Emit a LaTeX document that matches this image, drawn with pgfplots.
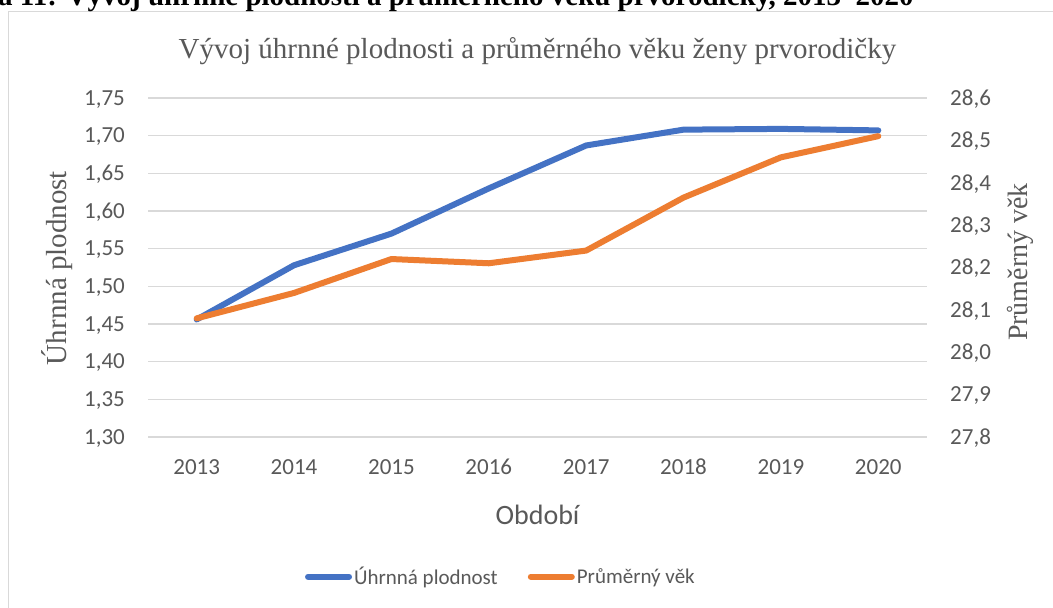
\documentclass[border=0pt]{standalone}
\usepackage{fontspec}
\setmainfont{Liberation Serif}
\newfontfamily\calibri{Carlito}
\usepackage{pgfplots}
\pgfplotsset{compat=1.18}
\definecolor{cblue}{HTML}{4472C4}
\definecolor{corange}{HTML}{ED7D31}
\definecolor{cgrid}{HTML}{D9D9D9}
\definecolor{ctext}{HTML}{595959}
\begin{document}
\begin{tikzpicture}[x=1pt,y=1pt]
\useasboundingbox (0,0) rectangle (1053,-608);
\clip (0,0) rectangle (1053,-608);
\fill[white] (0,0) rectangle (1053,-608);
\draw[cgrid, line width=1.5pt] (8.3,-620) -- (8.3,-11.5) -- (1060,-11.5);
\node[anchor=base west, inner sep=0, font=\fontsize{29}{34}\selectfont\bfseries] at (-2,-5) {\llap{Příloh}a 11: Vývoj úhrnné plodnosti a průměrného věku prvorodičky, 2013–2020};
\node[anchor=base, inner sep=0, text=ctext, font=\fontsize{29}{34}\selectfont] at (537.5,-58) {Vývoj úhrnné plodnosti a průměrného věku ženy prvorodičky};

\begin{axis}[
  at={(148pt,-437pt)}, anchor=south west, scale only axis,
  width=779pt, height=339pt,
  xmin=-0.5, xmax=7.5, ymin=1.30, ymax=1.75,
  xtick={0,1,2,3,4,5,6,7},
  xticklabels={2013,2014,2015,2016,2017,2018,2019,2020},
  ytick={1.30,1.35,1.40,1.45,1.50,1.55,1.60,1.65,1.70,1.75},
  axis line style={draw=none}, tick style={draw=none}, major tick length=0pt,
  ymajorgrids, grid style={cgrid, line width=1.5pt},
  tick label style={font=\calibri\fontsize{23}{27}\selectfont, text=ctext},
  yticklabel style={anchor=base east, inner sep=0pt, xshift=-23pt, yshift=-7.3pt},
  xticklabel style={anchor=base, inner sep=0pt, yshift=-37pt},
  /pgf/number format/.cd, use comma, fixed, fixed zerofill, precision=2, assume math mode=true,
]
\addplot[cblue, line width=6pt, line cap=round, line join=round] coordinates {
 (0,1.456) (1,1.528) (2,1.570) (3,1.630) (4,1.687) (5,1.708) (6,1.709) (7,1.707)};
\end{axis}

\begin{axis}[
  at={(148pt,-437pt)}, anchor=south west, scale only axis,
  width=779pt, height=339pt,
  xmin=-0.5, xmax=7.5, ymin=27.8, ymax=28.6,
  xtick=\empty,
  ytick={27.8,27.9,28.0,28.1,28.2,28.3,28.4,28.5,28.6},
  yticklabel pos=right,
  axis line style={draw=none}, tick style={draw=none}, major tick length=0pt,
  tick label style={font=\calibri\fontsize{23}{27}\selectfont, text=ctext},
  yticklabel style={anchor=base west, inner sep=0pt, xshift=23pt, yshift=-7.3pt},
  /pgf/number format/.cd, use comma, fixed, fixed zerofill, precision=1, assume math mode=true,
  /pgfplots/.cd,
  legend style={at={(0.453,-0.412)}, anchor=center, draw=none, fill=none,
    font=\calibri\fontsize{21}{25}\selectfont, text=ctext, inner sep=0pt},
  legend columns=2,
  legend image code/.code={\draw[#1, line width=6pt, line cap=round] (3pt,0pt) -- (44pt,0pt);},
]
\addlegendimage{cblue}
\addlegendentry{Úhrnná plodnost\rule{28pt}{0pt}}
\addplot[corange, line width=6pt, line cap=round, line join=round] coordinates {
 (0,28.08) (1,28.14) (2,28.22) (3,28.21) (4,28.24) (5,28.365) (6,28.46) (7,28.51)};
\addlegendentry{Průměrný věk}
\end{axis}

\node[rotate=90, anchor=base, inner sep=0, text=ctext, font=\fontsize{29}{34}\selectfont] at (66,-268) {Úhrnná plodnost};
\node[rotate=90, anchor=base, inner sep=0, text=ctext, font=\fontsize{28}{34}\selectfont] at (1027,-262) {Průměrný věk};
\node[anchor=base, inner sep=0, text=ctext, font=\calibri\fontsize{28}{32}\selectfont] at (537.5,-524) {Období};
\end{tikzpicture}
\end{document}
